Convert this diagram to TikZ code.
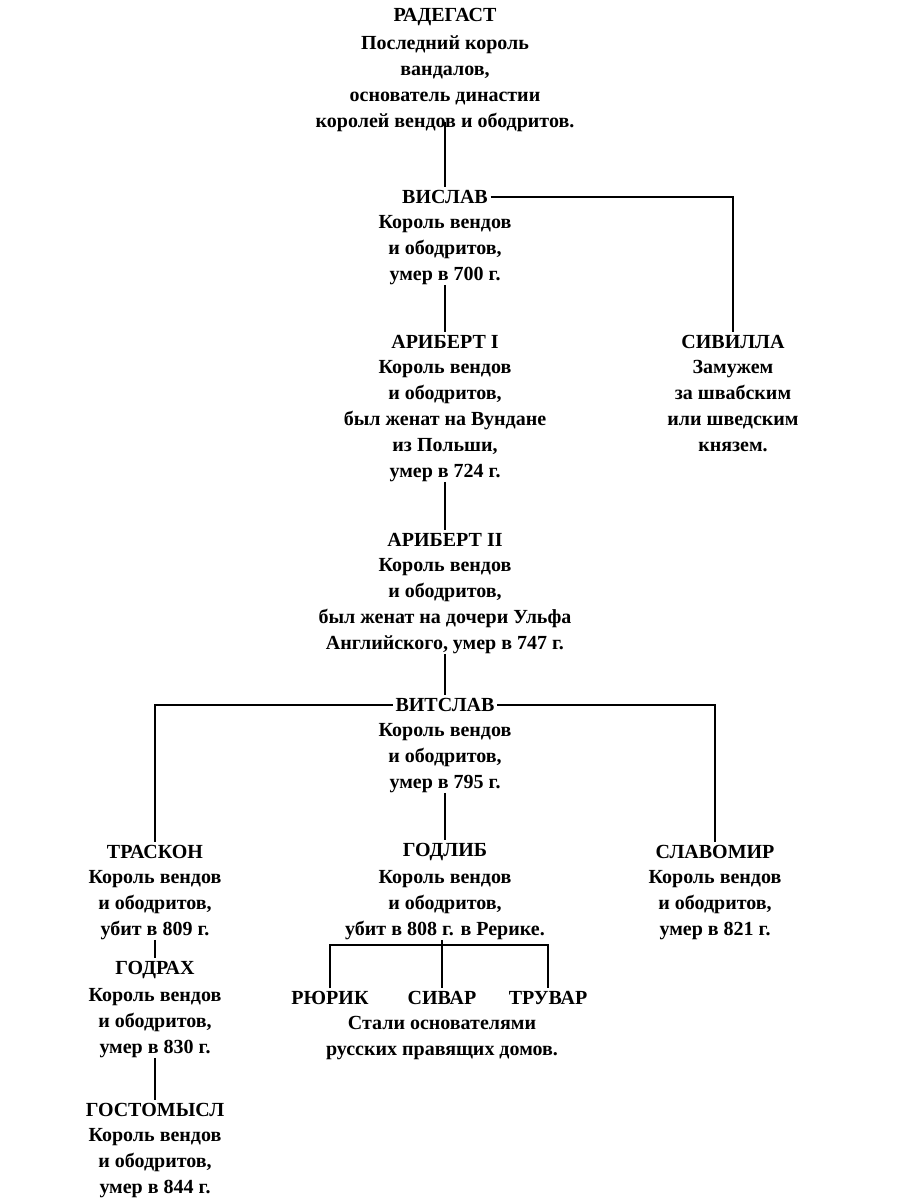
\documentclass[tikz,border=0pt]{standalone}
\usepackage{fontspec}
\setmainfont{Liberation Serif}
\usetikzlibrary{calc}
\begin{document}
\begin{tikzpicture}[x=0.75pt,y=-0.75pt,
  nm/.style={inner sep=2pt,font=\fontsize{15}{19.5}\selectfont\bfseries},
  ds/.style={anchor=north,align=center,inner sep=0pt,font=\fontsize{15}{19.5}\selectfont\bfseries},
  ln/.style={line width=0.9pt}]
\useasboundingbox (0,0) rectangle (913,1200);
\fill[white] (0,0) rectangle (913,1200);
\newcommand{\person}[5]{%
  \node[nm] (#1) at (#2,#3) {#4};
  \node[ds] (#1d) at (#2,#3+18) {#5};}
\person{rad}{445}{17}{РАДЕГАСТ}{Последний король\\вандалов,\\основатель династии\\королей вендов и ободритов.}
\person{vis}{445}{197}{ВИСЛАВ}{Король вендов\\и ободритов,\\умер в 700 г.}
\person{siv}{733}{342}{СИВИЛЛА}{Замужем\\за швабским\\или шведским\\князем.}
\person{ar1}{445}{342}{АРИБЕРТ I}{Король вендов\\и ободритов,\\был женат на Вундане\\из Польши,\\умер в 724 г.}
\person{ar2}{445}{540}{АРИБЕРТ II}{Король вендов\\и ободритов,\\был женат на дочери Ульфа\\Английского, умер в 747 г.}
\person{vit}{445}{705}{ВИТСЛАВ}{Король вендов\\и ободритов,\\умер в 795 г.}
\person{tra}{155}{852}{ТРАСКОН}{Король вендов\\и ободритов,\\убит в 809 г.}
\person{god}{445}{852}{ГОДЛИБ}{Король вендов\\и ободритов,\\убит в 808 г. в Рерике.}
\person{sla}{715}{852}{СЛАВОМИР}{Король вендов\\и ободритов,\\умер в 821 г.}
\person{gdr}{155}{970}{ГОДРАХ}{Король вендов\\и ободритов,\\умер в 830 г.}
\person{gos}{155}{1110}{ГОСТОМЫСЛ}{Король вендов\\и ободритов,\\умер в 844 г.}
\node[nm] (ryu) at (330,998) {РЮРИК};
\node[nm] (svr) at (442,998) {СИВАР};
\node[nm] (trv) at (548,998) {ТРУВАР};
\node[ds] (rusd) at (442,1016) {Стали основателями\\русских правящих домов.};
% connectors
\coordinate (gb) at (442,945);
\draw[ln] (radd.south) ++(0,-10) -- (vis.north);
\draw[ln] (vis.east) -| (siv.north);
\draw[ln] (visd.south) -- (ar1.north);
\draw[ln] (ar1d.south) -- (ar2.north);
\draw[ln] (ar2d.south) -- (vit.north);
\draw[ln] (vit.west) -| (tra.north);
\draw[ln] (vit.east) -| (sla.north);
\draw[ln] (vitd.south) -- (god.north);
\draw[ln] (trad.south) -- (gdr.north);
\draw[ln] (gdrd.south) -- (gos.north);
\draw[ln] (godd.south -| gb) -- (gb);
\draw[ln] (ryu.north) |- (gb) -| (trv.north);
\draw[ln] (gb) -- (svr.north);
\end{tikzpicture}
\end{document}
